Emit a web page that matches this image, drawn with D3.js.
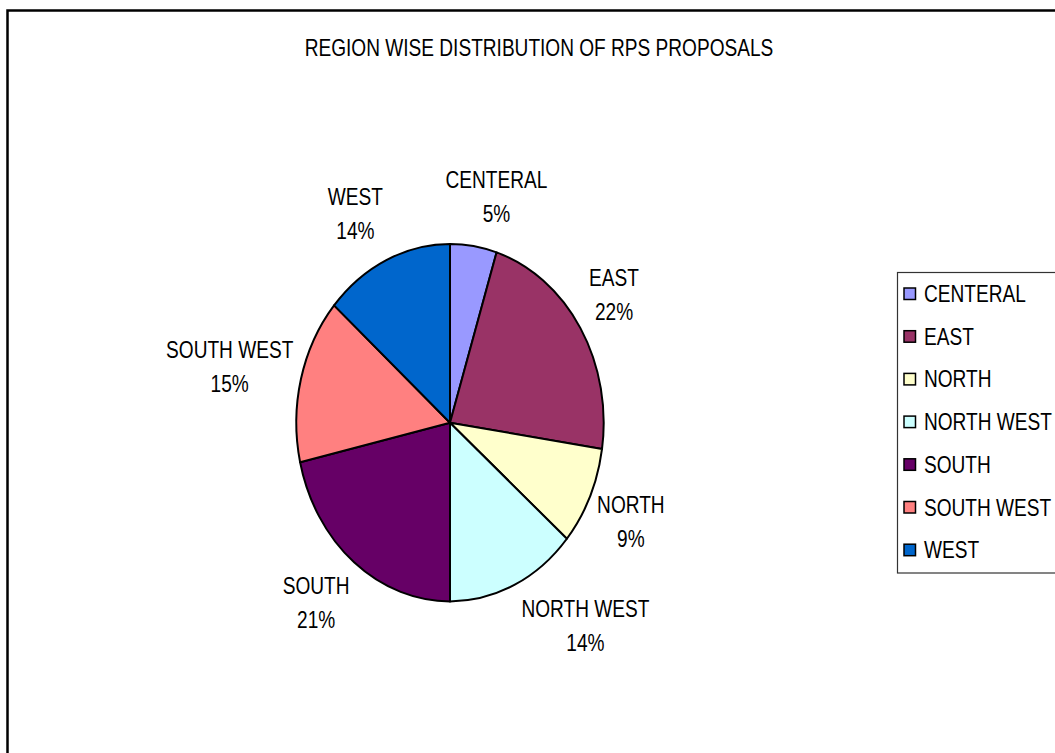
<!DOCTYPE html>
<html>
<head>
<meta charset="utf-8">
<script src="https://cdn.jsdelivr.net/npm/d3@7"></script>
<style>
  html, body { margin: 0; padding: 0; background: #fff; }
  svg { display: block; }
  text { font-family: "Liberation Sans", Arial, sans-serif; fill: #000; }
</style>
</head>
<body>
<svg id="chart" width="1055" height="753"></svg>
<script>
// ---- data ----
const categories = ["CENTERAL", "EAST", "NORTH", "NORTH WEST", "SOUTH", "SOUTH WEST", "WEST"];
const values = [4.9, 22.45, 8.9, 13.75, 21.45, 14.95, 13.6];
const colors = ["#9999FF", "#993366", "#FFFFCC", "#CCFFFF", "#660066", "#FF8080", "#0066CC"];
const title = "REGION WISE DISTRIBUTION OF RPS PROPOSALS";

// ---- layout ----
const W = 1055, H = 753;
const cx = 450, cy = 422.7, ry = 178.7, rx = 153.7;
const squish = rx / ry;           // picture is horizontally condensed
const textSquish = 0.83;
const fontSize = 23;
const lineGap = 34;
const labelK = 1.25;
// small layout nudges for the data labels (dx, dy in px)
const labelNudge = [[17, -5], [1, -9], [6, 7], [55, 0], [-14, 6], [-34, -1], [-15, -5]];

const svg = d3.select("#chart");

// outer chart border
svg.append("rect")
  .attr("x", 7.5).attr("y", 10.5)
  .attr("width", 1200).attr("height", 900)
  .attr("fill", "#fff").attr("stroke", "#000").attr("stroke-width", 2.5);

function condensedText(parent, x, y, str, anchor) {
  const g = parent.append("g").attr("transform", `translate(${x},${y}) scale(${textSquish},1)`);
  return g.append("text")
    .attr("x", 0).attr("y", 0)
    .attr("text-anchor", anchor || "middle")
    .style("font-size", fontSize + "px")
    .text(str);
}
// title
condensedText(svg, 539, 56, title);

// pie
const total = d3.sum(values);
const pie = d3.pie().sort(null).value(d => d)(values);
const arc = d3.arc().innerRadius(0).outerRadius(ry);

const pieG = svg.append("g")
  .attr("transform", `translate(${cx},${cy}) scale(${squish},1)`);

pieG.selectAll("path.slice")
  .data(pie)
  .join("path")
  .attr("class", "slice")
  .attr("d", arc)
  .attr("fill", (d, i) => colors[i])
  .attr("stroke", "#000")
  .attr("stroke-width", 2)
  .attr("stroke-linejoin", "round")
  .attr("vector-effect", "non-scaling-stroke");

// data labels
const pct = d3.format(".0%");
pie.forEach((d, i) => {
  const mid = (d.startAngle + d.endAngle) / 2;
  const lx = cx + rx * labelK * Math.sin(mid) + labelNudge[i][0];
  const ly = cy - ry * labelK * Math.cos(mid) + labelNudge[i][1];
  condensedText(svg, lx, ly - lineGap / 2 + 8, categories[i]);
  condensedText(svg, lx, ly + lineGap / 2 + 8, pct(Math.round(values[i] / total * 100) / 100));
});

// legend
const legX = 897.5, legY = 272.5, rowStart = 294, rowStep = 42.7;
svg.append("rect")
  .attr("x", legX).attr("y", legY)
  .attr("width", 300).attr("height", 300.5)
  .attr("fill", "#fff").attr("stroke", "#333").attr("stroke-width", 1.2);

const leg = svg.append("g");
categories.forEach((c, i) => {
  const yc = rowStart + i * rowStep;
  leg.append("rect")
    .attr("x", 904).attr("y", yc - 6)
    .attr("width", 11.5).attr("height", 11.5)
    .attr("fill", colors[i]).attr("stroke", "#000").attr("stroke-width", 1.5);
  condensedText(leg, 924, yc + 8, c, "start");
});
</script>
</body>
</html>
